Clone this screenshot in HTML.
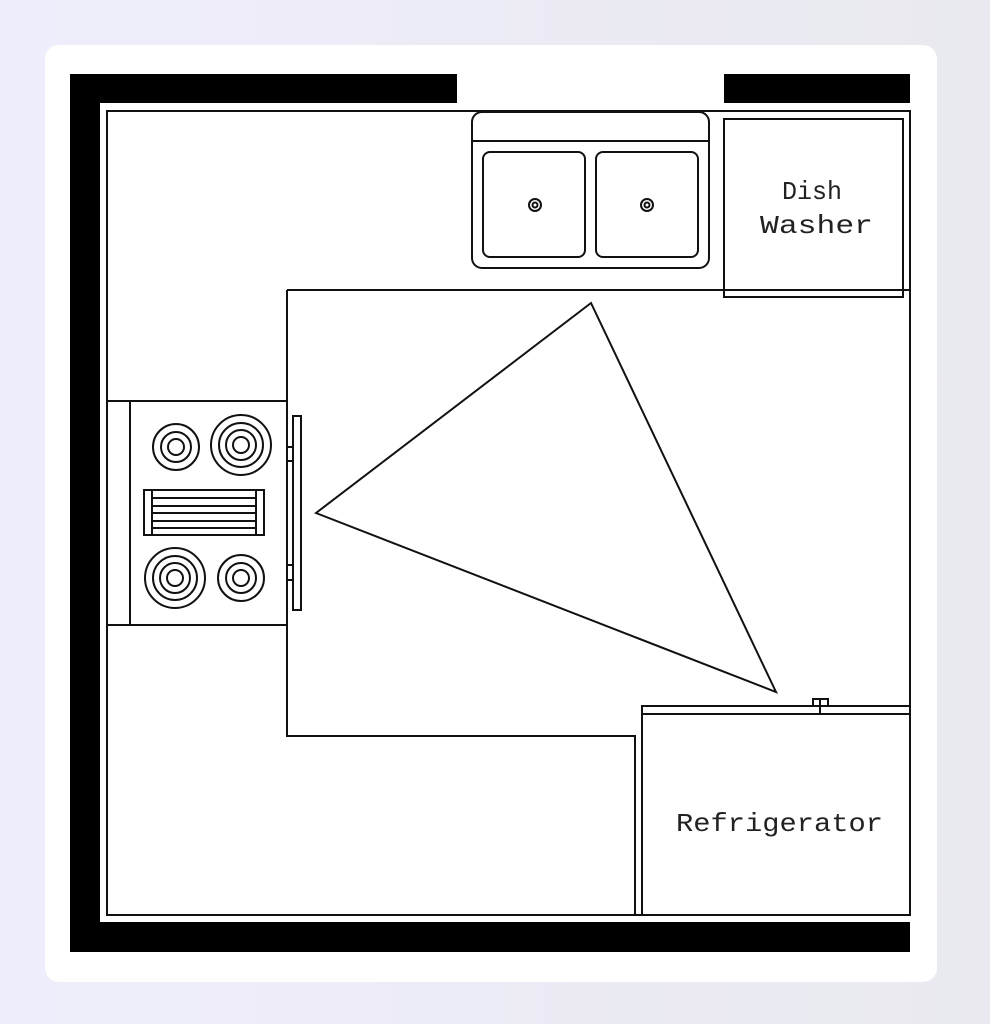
<!DOCTYPE html>
<html><head><style>
html,body{margin:0;padding:0;width:990px;height:1024px;overflow:hidden;background:linear-gradient(90deg,#efeefc,#e9e9ef);}
.card{position:absolute;left:45px;top:45px;width:892px;height:937px;background:#fff;border-radius:14px;}
svg{position:absolute;left:0;top:0}
text{font-family:"Liberation Mono","DejaVu Sans Mono",monospace;fill:#222}
</style></head><body>
<div class="card"></div>
<svg width="990" height="1024" viewBox="0 0 990 1024" fill="none" stroke="#111" stroke-width="2">
<g fill="#000" stroke="none">
<rect x="70" y="74" width="387" height="29"/>
<rect x="724" y="74" width="186" height="29"/>
<rect x="70" y="74" width="30" height="878"/>
<rect x="70" y="922" width="840" height="30"/>
</g>
<rect x="107" y="111" width="803" height="804"/>
<path d="M287 290H910M287 290V736H635V915"/>
<rect x="472" y="112" width="237" height="156" rx="10"/>
<line x1="472" y1="141" x2="709" y2="141"/>
<rect x="483" y="152" width="102" height="105" rx="7"/>
<rect x="596" y="152" width="102" height="105" rx="7"/>
<circle cx="535" cy="205" r="6"/><circle cx="535" cy="205" r="2.5"/>
<circle cx="647" cy="205" r="6"/><circle cx="647" cy="205" r="2.5"/>
<rect x="724" y="119" width="179" height="178"/>
<text x="782" y="199" font-size="26" textLength="60" lengthAdjust="spacingAndGlyphs" stroke="none">Dish</text>
<text x="760" y="233" font-size="26" textLength="113" lengthAdjust="spacingAndGlyphs" stroke="none">Washer</text>
<rect x="107" y="401" width="180" height="224"/>
<line x1="130" y1="401" x2="130" y2="625"/>
<rect x="293" y="416" width="8" height="194"/>
<path d="M287 447H293M287 461H293M287 565H293M287 580H293"/>
<g>
<circle cx="176" cy="447" r="23"/><circle cx="176" cy="447" r="15"/><circle cx="176" cy="447" r="8"/>
<circle cx="241" cy="445" r="30"/><circle cx="241" cy="445" r="22"/><circle cx="241" cy="445" r="15"/><circle cx="241" cy="445" r="8"/>
<circle cx="175" cy="578" r="30"/><circle cx="175" cy="578" r="22"/><circle cx="175" cy="578" r="15"/><circle cx="175" cy="578" r="8"/>
<circle cx="241" cy="578" r="23"/><circle cx="241" cy="578" r="15"/><circle cx="241" cy="578" r="8"/>
</g>
<rect x="144" y="490" width="120" height="45"/>
<path d="M152 490V535M256 490V535M152 498H256M152 506H256M152 513H256M152 521H256M152 528H256"/>
<polygon points="316,513 591,303 776,692"/>
<rect x="642" y="706" width="268" height="209"/>
<line x1="642" y1="714" x2="910" y2="714"/>
<rect x="813" y="699" width="15" height="7"/>
<line x1="820" y1="699" x2="820" y2="714"/>
<text x="676" y="831" font-size="26" textLength="207" lengthAdjust="spacingAndGlyphs" stroke="none">Refrigerator</text>
</svg>
</body></html>
